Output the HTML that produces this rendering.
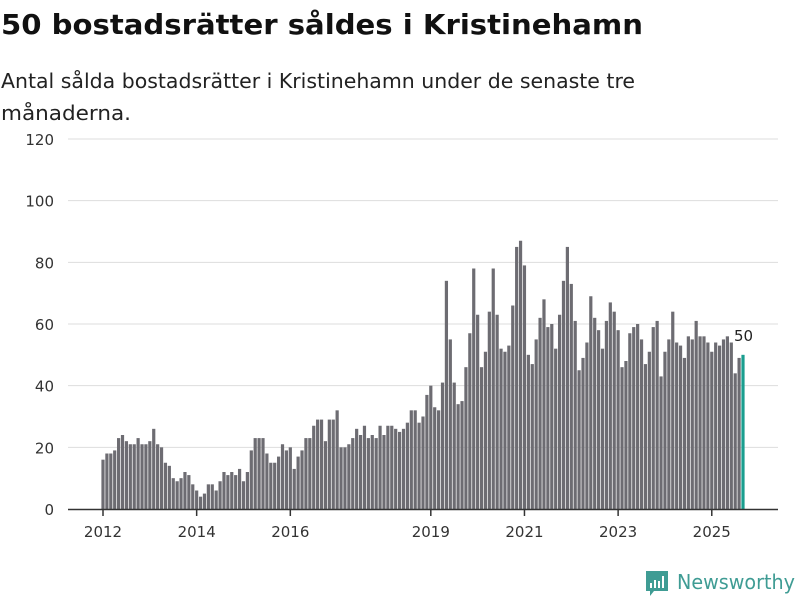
<!DOCTYPE html>
<html><head><meta charset="utf-8"><style>
body{margin:0;background:#fff;width:800px;height:600px;overflow:hidden;font-family:"DejaVu Sans","Liberation Sans",sans-serif;}
</style></head><body>
<svg width="800" height="600" xmlns="http://www.w3.org/2000/svg">
<text x="1" y="34" font-size="28" font-weight="bold" fill="#111" textLength="642" lengthAdjust="spacingAndGlyphs">50 bostadsrätter såldes i Kristinehamn</text>
<text x="1" y="88" font-size="20" fill="#222" textLength="634" lengthAdjust="spacingAndGlyphs">Antal sålda bostadsrätter i Kristinehamn under de senaste tre</text>
<text x="1" y="120" font-size="20" fill="#222" textLength="130" lengthAdjust="spacingAndGlyphs">månaderna.</text>
<g id="grid"></g><g id="bars"></g><g id="xaxis"></g>
<g>
<path d="M646 571 h22 v20 h-14 l-4 5 v-5 h-4 z" fill="#3f9c94"/>
<rect x="650" y="583" width="2" height="5" fill="#fff"/><rect x="654" y="580" width="2" height="8" fill="#fff"/><rect x="658" y="581" width="2" height="7" fill="#fff"/><rect x="662" y="576" width="2" height="12" fill="#fff"/>
<text x="677" y="589" font-size="20" fill="#3f9c94" textLength="118" lengthAdjust="spacingAndGlyphs">Newsworthy</text>
</g>
</svg>
<script>
const yTicks=[0,20,40,60,80,100,120];
const yearLabels=["2012","2014","2016","2019","2021","2023","2025"];
const yearIndex=[0,24,48,84,108,132,156];
const values=[16,18,18,19,23,24,22,21,21,23,21,21,
22,26,21,20,15,14,10,9,10,12,11,8,
6,4,5,8,8,6,9,12,11,12,11,13,
9,12,19,23,23,23,18,15,15,17,21,19,
20,13,17,19,23,23,27,29,29,22,29,29,
32,20,20,21,23,26,24,27,23,24,23,27,
24,27,27,26,25,26,28,32,32,28,30,37,
40,33,32,41,74,55,41,34,35,46,57,78,
63,46,51,64,78,63,52,51,53,66,85,87,
79,50,47,55,62,68,59,60,52,63,74,85,
73,61,45,49,54,69,62,58,52,61,67,64,
58,46,48,57,59,60,55,47,51,59,61,43,
51,55,64,54,53,49,56,55,61,56,56,54,
51,54,53,55,56,54,44,49,50];
const NS="http://www.w3.org/2000/svg";
const y=v=>509-v*(370/120);
const x=i=>103+i*(640/(values.length-1));
function mk(t,a,p){const e=document.createElementNS(NS,t);for(const k in a)e.setAttribute(k,a[k]);p.appendChild(e);return e;}
const grid=document.getElementById('grid'),bars=document.getElementById('bars'),xa=document.getElementById('xaxis');
yTicks.forEach(v=>{
 if(v>0){const l=mk('line',{x1:68,x2:778,y1:y(v),y2:y(v),stroke:'#ddd','stroke-width':1},grid);
 
 }
 const t=mk('text',{x:54,y:y(v)+6,'text-anchor':'end','font-size':15,fill:'#333'},grid);
 
 
 t.textContent=v;
});
values.forEach((v,i)=>{
 const last=i===values.length-1;
 const r=mk('rect',{x:x(i)-1.6,y:y(v),width:3.2,height:509-y(v),fill:last?'#1a9e8f':'#6d6c72'},bars);
 
 
 if(last){const t=mk('text',{x:x(i)-9,y:y(v)-14,'font-size':15,fill:'#222'},bars);
 
 
 t.textContent=v;}
});
const ax=mk('line',{x1:68,x2:778,y1:509.5,y2:509.5,stroke:'#333','stroke-width':1.5},xa);


yearLabels.forEach((lab,k)=>{
 const xx=x(yearIndex[k]);
 const tk=mk('line',{x1:xx,x2:xx,y1:510,y2:516,stroke:'#333','stroke-width':1.5},xa);
 
 
 const t=mk('text',{x:xx,y:537,'text-anchor':'middle','font-size':15,fill:'#333'},xa);
 
 
 t.textContent=lab;
});
</script>
</body></html>
